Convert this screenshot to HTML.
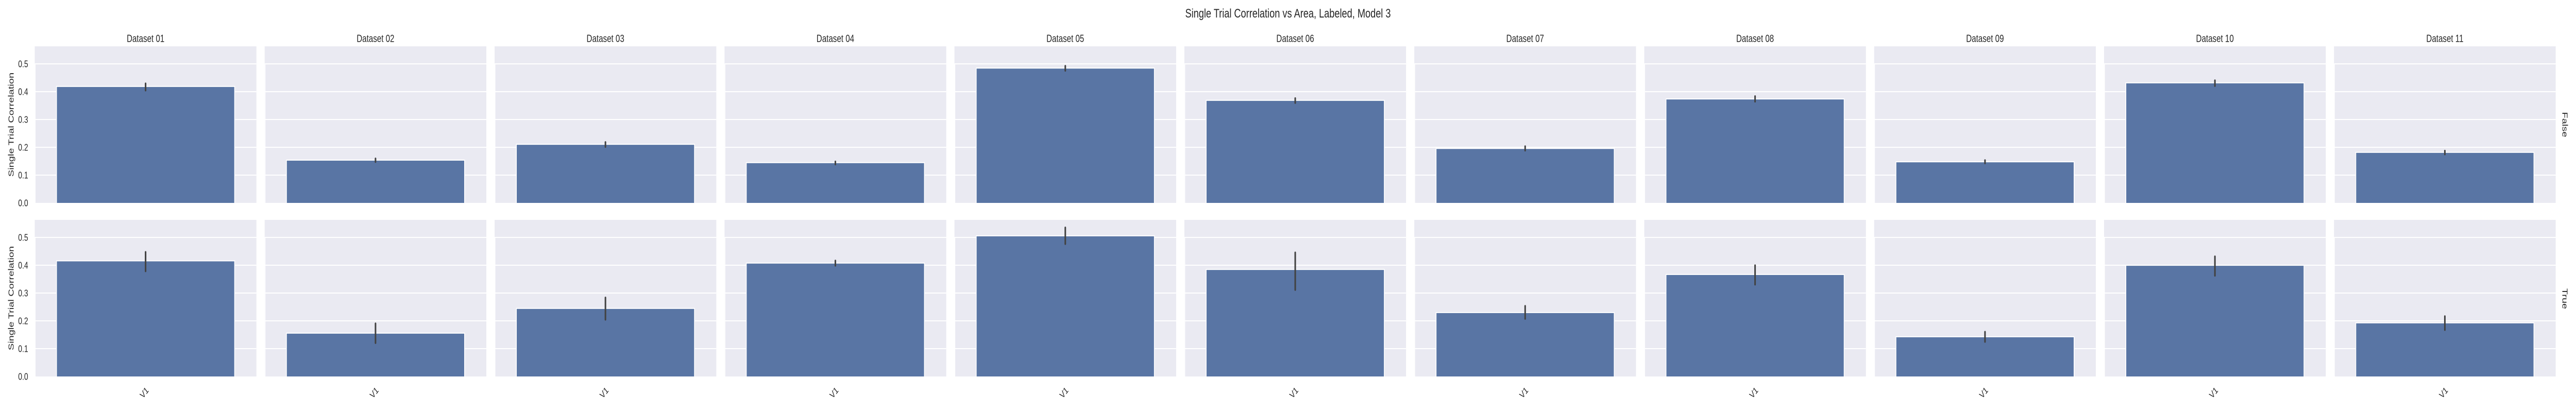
<!DOCTYPE html>
<html lang="en">
<head>
<meta charset="utf-8">
<title>Single Trial Correlation vs Area, Labeled, Model 3</title>
<style>
html,body{margin:0;padding:0;background:#fff;width:100%;height:100%;overflow:hidden}
svg{display:block;width:100vw;height:100vh}
text{font-family:"Liberation Sans",Arial,sans-serif;fill:#262626}
</style>
</head>
<body>
<svg id="chart" xmlns="http://www.w3.org/2000/svg" viewBox="0 0 6600 800" preserveAspectRatio="none">
  <rect x="0" y="0" width="6600" height="800" fill="#ffffff"/>
  <text x="3300" y="34" text-anchor="middle" font-size="24">Single Trial Correlation vs Area, Labeled, Model 3</text>
  <text transform="translate(35.3,242) rotate(-90)" text-anchor="middle" font-size="20">Single Trial Correlation</text>
  <text transform="translate(35.3,579) rotate(-90)" text-anchor="middle" font-size="20">Single Trial Correlation</text>
  <text transform="translate(6565,242) rotate(90)" text-anchor="middle" font-size="20">False</text>
  <text transform="translate(6565,580) rotate(90)" text-anchor="middle" font-size="20">True</text>
  <g id="panels"></g>
</svg>
<script>
const datasets = ["Dataset 01","Dataset 02","Dataset 03","Dataset 04","Dataset 05","Dataset 06","Dataset 07","Dataset 08","Dataset 09","Dataset 10","Dataset 11"];
const areaLabels = ["V1"];
const yTicks = [0.0,0.1,0.2,0.3,0.4,0.5];
const yTickLabels = ["0.0","0.1","0.2","0.3","0.4","0.5"];
const falseMeans = [0.417,0.152,0.209,0.143,0.483,0.367,0.194,0.372,0.146,0.430,0.180];
const falseLow   = [0.401,0.144,0.198,0.135,0.472,0.356,0.185,0.361,0.139,0.417,0.171];
const falseHigh  = [0.433,0.163,0.222,0.152,0.496,0.380,0.207,0.387,0.157,0.444,0.191];
const trueMeans  = [0.414,0.154,0.243,0.406,0.504,0.383,0.228,0.365,0.141,0.398,0.191];
const trueLow    = [0.375,0.117,0.201,0.395,0.473,0.308,0.204,0.327,0.121,0.359,0.164];
const trueHigh   = [0.451,0.194,0.287,0.420,0.539,0.449,0.257,0.403,0.164,0.435,0.220];

const NS = "http://www.w3.org/2000/svg";
const root = document.getElementById("panels");
const panelLeft0 = 89, panelStep = 589.1, panelWidth = 568;
const panelHeight = 304, yMax = 0.563;
const barFraction = 0.8;

function yScale(value, bottom) { return bottom - (value / yMax) * panelHeight; }
function xCenter(index) { return panelLeft0 + index * panelStep + panelWidth / 2; }
function make(tag, attrs, parent) {
  const el = document.createElementNS(NS, tag);
  for (const k in attrs) el.setAttribute(k, attrs[k]);
  parent.appendChild(el);
  return el;
}

function drawRow(rowName, bottom, means, low, high, isLast) {
  datasets.forEach(function (name, i) {
    const left = panelLeft0 + i * panelStep;
    const cx = xCenter(i);
    const top = bottom - panelHeight;
    const g = make("g", {}, root);
    
    

    const bg = make("rect", {x: left, y: top, width: panelWidth, height: panelHeight, fill: "#eaeaf2"}, g);
    
    

    yTicks.forEach(function (t) {
      if (t === 0) return;
      const y = yScale(t, bottom);
      const line = make("line", {x1: left, x2: left + panelWidth, y1: y, y2: y, stroke: "#ffffff", "stroke-width": 2}, g);
      
      
    });

    const maxTickY = yScale(yTicks[yTicks.length - 1], bottom);
    const spine = make("rect", {x: left, y: maxTickY, width: 2, height: bottom - maxTickY, fill: "#ffffff"}, g);
    
    

    const barW = panelWidth * barFraction;
    const barY = yScale(means[i], bottom);
    const halo = make("rect", {x: cx - barW / 2 - 2, y: barY - 2, width: barW + 4, height: bottom - barY + 2, fill: "#ffffff"}, g);
    
    
    const bar = make("rect", {x: cx - barW / 2, y: barY, width: barW, height: bottom - barY, fill: "#5975a4"}, g);
    
    

    const err = make("line", {x1: cx, x2: cx, y1: yScale(low[i], bottom) - 2, y2: yScale(high[i], bottom) + 2, stroke: "#424242", "stroke-width": 4, "stroke-linecap": "round"}, g);
    
    

    if (rowName === "false") {
      const title = make("text", {x: cx, y: 81.5, "text-anchor": "middle", "font-size": 20}, g);
      title.textContent = name;
      
      
    }

    if (i === 0) {
      yTicks.forEach(function (t, k) {
        const label = make("text", {x: 72, y: yScale(t, bottom) + 6.7, "text-anchor": "end", "font-size": 18.33}, g);
        label.textContent = yTickLabels[k];
        
        
      });
    }

    if (isLast) {
      const xl = make("text", {transform: "translate(" + (cx - 3) + ",763) rotate(-45)", "text-anchor": "middle", "dominant-baseline": "central", "font-size": 18.33}, g);
      xl.textContent = areaLabels[0];
      
      
    }
  });
}

drawRow("false", 394, falseMeans, falseLow, falseHigh, false);
drawRow("true", 731, trueMeans, trueLow, trueHigh, true);
</script>
</body>
</html>
